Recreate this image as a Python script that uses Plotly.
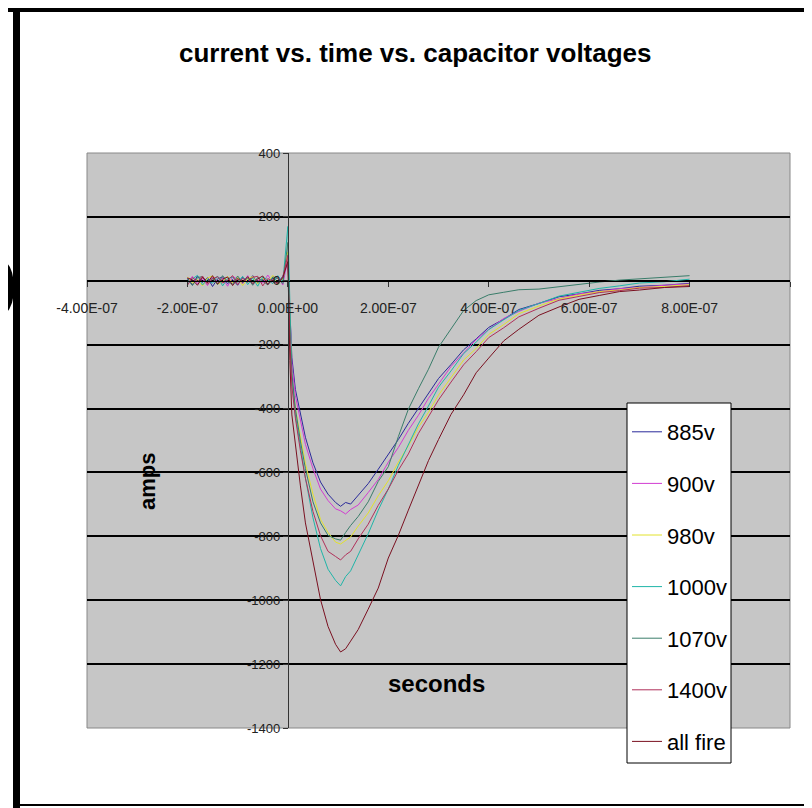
import plotly.graph_objects as go

# time base in nanoseconds (scope record: 200 ns pre-trigger, 800 ns after)
t_ns = [-200, -190, -180, -170, -160, -150, -140, -130, -120, -110,
        -100, -90, -80, -70, -60, -50, -40, -30, -20, -10,
        0, 4, 8, 15, 25, 35, 50, 65, 80, 95,
        105, 115, 125, 140, 160, 180, 200, 220, 240, 260,
        280, 300, 325, 350, 375, 400, 430, 460, 500, 540,
        580, 620, 660, 700, 750, 800]

# current in amps
amps_885 = [8, -12, 15, -5, 10, -18, 6, 12, -9, 4, -14, 11, -3, 16, -8, 5, -11, 9, -6, 14,
            60, -120, -240, -340, -420, -490, -570, -630, -668, -694,
            -706, -694, -699, -672, -635, -590, -545, -497, -446, -400,
            -352, -306, -262, -216, -182, -146, -120, -90, -71, -50,
            -41, -30, -25, -17, -14, -8]
amps_900 = [-6, 14, -10, 7, -15, 12, -4, 9, -17, 13, 5, -9, 16, -12, 3, -7, 18, -5, 11, -13,
            70, -130, -260, -360, -440, -512, -588, -652, -688, -714,
            -720, -730, -716, -702, -663, -622, -568, -522, -468, -421,
            -368, -322, -268, -226, -184, -152, -118, -96, -70, -56,
            -41, -34, -25, -21, -14, -10]
amps_980 = [12, -8, 4, -16, 9, 15, -11, -3, 14, -7, 10, -15, 6, 13, -10, 8, -4, 17, -12, 5,
            90, -150, -300, -400, -490, -572, -668, -747, -788, -818,
            -824, -812, -802, -768, -727, -673, -626, -568, -517, -458,
            -412, -358, -302, -248, -212, -168, -137, -103, -79, -57,
            -45, -34, -29, -21, -18, -12]
amps_1000 = [-10, 6, 17, -13, 4, -8, 15, -16, 7, 11, -5, 14, -12, 9, -17, 12, 3, -9, 16, -4,
             170, -100, -300, -420, -522, -618, -742, -838, -903, -938,
             -955, -926, -908, -857, -792, -718, -652, -578, -512, -448,
             -392, -333, -282, -228, -192, -153, -122, -93, -71, -48,
             -36, -24, -16, -7, -3, 5]
amps_1070 = [5, -15, 10, 13, -6, 8, -12, 16, -3, -11, 15, -6, 9, -14, 11, -2, -13, 12, 7, -9,
             120, -140, -290, -400, -502, -588, -692, -758, -797, -808,
             -812, -788, -766, -738, -692, -628, -582, -488, -402, -338,
             -277, -208, -152, -93, -62, -44, -36, -28, -26, -18,
             -11, -4, 2, 6, 11, 16]
amps_1400 = [-14, 10, -3, 15, -11, 6, 13, -7, 2, 16, -12, 8, -5, 11, 14, -16, 7, -2, -10, 12,
             80, -180, -330, -430, -532, -618, -722, -798, -847, -863,
             -874, -858, -847, -808, -762, -703, -652, -593, -542, -478,
             -427, -373, -317, -263, -222, -178, -147, -113, -86, -61,
             -49, -37, -31, -23, -21, -15]
amps_all = [9, 3, -14, 11, -6, 16, -10, 5, 12, -15, 7, -4, 13, -9, 6, 15, -12, 4, -8, 10,
            60, -250, -420, -520, -642, -758, -882, -998, -1082, -1138,
            -1162, -1152, -1128, -1092, -1028, -962, -868, -797, -718, -642,
            -563, -497, -418, -357, -288, -242, -188, -152, -108, -82,
            -58, -46, -34, -29, -21, -18]

series_names = ["885v", "900v", "980v", "1000v", "1070v", "1400v", "all fire"]
series_amps = [amps_885, amps_900, amps_980, amps_1000, amps_1070, amps_1400, amps_all]
series_colors = ["#2a2a9a", "#d23cd2", "#e2e22c", "#1fb5a8", "#3a7d6a", "#b0305a", "#7a1020"]

x_ticks = [-4e-7, -2e-7, 0, 2e-7, 4e-7, 6e-7, 8e-7, 1e-6]
x_tick_text = ["-4.00E-07", "-2.00E-07", "0.00E+00", "2.00E-07", "4.00E-07", "6.00E-07", "8.00E-07", "1.00E-06"]
y_ticks = [-1400, -1200, -1000, -800, -600, -400, -200, 0, 200, 400]
y_tick_text = ["-1400", "-1200", "-1000", "-800", "-600", "-400", "-200", "0", "200", "400"]

# page has an 8px body margin, so the figure is a bit smaller than the window
OFF = 8
W, H = 812 - OFF, 808 - OFF
L, R, T, B = 87, 790, 153, 728   # plot area in window pixels

def px(x):
    return (x - L) / (R - L)

def py(y):
    return (B - y) / (B - T)

font = "Liberation Sans, Arial, sans-serif"

t_sec = [t * 1e-9 for t in t_ns]

fig = go.Figure()
for name, amps, col in zip(series_names, series_amps, series_colors):
    fig.add_trace(go.Scatter(x=t_sec, y=amps, mode="lines", name=name, legendgroup=name,
                             line=dict(color=col, width=1)))

fig.update_layout(
    width=W, height=H,
    margin=dict(l=L - OFF, r=812 - R, t=T - OFF, b=808 - B),
    paper_bgcolor="white", plot_bgcolor="#c6c6c6",
    showlegend=True,
    legend=dict(x=px(627), y=py(411), xanchor="left", yanchor="top",
                bgcolor="rgba(0,0,0,0)", borderwidth=0,
                font=dict(family=font, size=22, color="black"),
                tracegroupgap=20, itemwidth=30),
)

# axes cross at zero like the spreadsheet chart
fig.update_xaxes(range=[-4e-7, 1e-6], tickvals=x_ticks, ticktext=x_tick_text,
                 anchor="free", position=1400 / 1800, showgrid=False, zeroline=False,
                 showline=True, linecolor="black", linewidth=1,
                 ticks="outside", ticklen=5, tickcolor="#333", ticklabelstandoff=9,
                 tickfont=dict(family=font, size=14, color="#222"))
fig.update_yaxes(range=[-1400, 400], tickvals=y_ticks, ticktext=y_tick_text,
                 anchor="free", position=4 / 14, showgrid=True, gridcolor="black", gridwidth=2,
                 zeroline=False, showline=True, linecolor="#333", linewidth=1,
                 ticks="outside", ticklen=5, tickcolor="#333",
                 tickfont=dict(family=font, size=13, color="#222"))

# frame of the pasted chart picture
fig.add_shape(type="rect", xref="paper", yref="paper", x0=0, x1=1, y0=0, y1=1,
              line=dict(color="#888", width=1), layer="below")
fig.add_shape(type="rect", xref="paper", yref="paper", x0=px(0), x1=px(812), y0=py(0), y1=py(12),
              fillcolor="black", line=dict(width=0))
fig.add_shape(type="rect", xref="paper", yref="paper", x0=px(13), x1=px(20), y0=py(0), y1=py(808),
              fillcolor="black", line=dict(width=0))
fig.add_shape(type="rect", xref="paper", yref="paper", x0=px(20), x1=px(812), y0=py(804), y1=py(806),
              fillcolor="black", line=dict(width=0))
# legend box
fig.add_shape(type="rect", xref="paper", yref="paper", x0=px(627), x1=px(731), y0=py(763), y1=py(403),
              fillcolor="white", line=dict(color="black", width=1))

fig.add_annotation(text="<b>current vs. time vs. capacitor voltages</b>", xref="paper", yref="paper",
                   x=px(415), y=py(53), xanchor="center", yanchor="middle", showarrow=False,
                   font=dict(family=font, size=26, color="black"))
fig.add_annotation(text="<b>amps</b>", xref="paper", yref="paper", x=px(148), y=py(482),
                   xanchor="center", yanchor="middle", textangle=-90, showarrow=False,
                   font=dict(family=font, size=22, color="black"))
fig.add_annotation(text="<b>seconds</b>", xref="paper", yref="paper", x=px(436), y=py(683),
                   xanchor="center", yanchor="middle", showarrow=False,
                   font=dict(family=font, size=24, color="black"))
fig.add_annotation(text=")", xref="paper", yref="paper", x=px(19), y=py(280),
                   xanchor="right", yanchor="middle", showarrow=False,
                   font=dict(family="Liberation Serif", size=76, color="black"))

fig.write_html("out.html")
